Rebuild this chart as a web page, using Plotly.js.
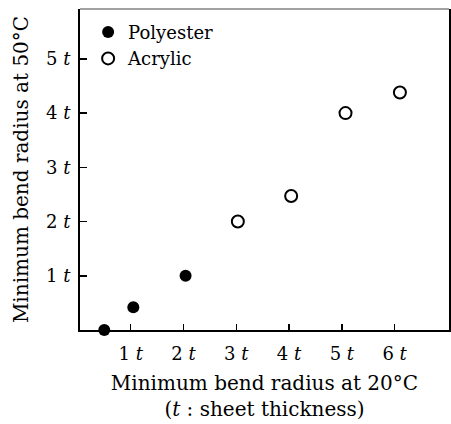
<!DOCTYPE html>
<html><head><meta charset="utf-8">
<script src="https://cdn.plot.ly/plotly-3.0.1.min.js"></script>
<style>body{margin:0;background:#fff}</style>
</head><body>
<div id="chart" style="width:451px;height:424px"></div>
<script>
// Data (units of sheet thickness t)
const polyesterX = [0.5, 1.05, 2.04];
const polyesterY = [0, 0.42, 1];
const acrylicX = [3.03, 4.04, 5.07, 6.1];
const acrylicY = [2, 2.47, 4, 4.38];
const seriesNames = ['Polyester', 'Acrylic'];
const xTickVals = [1, 2, 3, 4, 5, 6];
const yTickVals = [1, 2, 3, 4, 5];
const xTickText = xTickVals.map(v => v + ' <i>t</i>');
const yTickText = yTickVals.map(v => v + ' <i>t</i>');
const xTitle = 'Minimum bend radius at 20°C<br>(<i>t</i> : sheet thickness)';
const yTitle = 'Minimum bend radius at 50°C';

const FONT = 'DejaVu Serif';

const traces = [
  {
    x: polyesterX, y: polyesterY, name: seriesNames[0],
    type: 'scatter', mode: 'markers', cliponaxis: false,
    marker: {symbol: 'circle', size: 12, color: '#000'}
  },
  {
    x: acrylicX, y: acrylicY, name: seriesNames[1],
    type: 'scatter', mode: 'markers', cliponaxis: false,
    marker: {symbol: 'circle-open', size: 12, color: '#000', line: {width: 2, color: '#000'}}
  }
];

const layout = {
  width: 451, height: 424,
  margin: {l: 80, r: 2, t: 9, b: 94},
  paper_bgcolor: '#fff', plot_bgcolor: '#fff',
  font: {family: FONT, color: '#000', size: 18},
  showlegend: true,
  legend: {
    x: 0.022, y: 0.985, xanchor: 'left', yanchor: 'top',
    font: {family: FONT, size: 18, color: '#000'},
    bgcolor: 'rgba(0,0,0,0)', itemwidth: 30
  },
  xaxis: {
    range: [0.04, 7.03], tickvals: xTickVals, ticktext: xTickText,
    ticks: 'inside', ticklen: 6, tickwidth: 1.5, tickcolor: '#000',
    showline: true, linecolor: '#000', linewidth: 2, mirror: false,
    showgrid: false, zeroline: false, ticklabelstandoff: 6,
    tickfont: {family: FONT, size: 18},
    title: {text: xTitle, font: {family: FONT, size: 20}, standoff: 13}
  },
  yaxis: {
    range: [0, 5.92], tickvals: yTickVals, ticktext: yTickText,
    ticks: 'inside', ticklen: 7, tickwidth: 1.5, tickcolor: '#000',
    showline: true, linecolor: '#000', linewidth: 2, mirror: true,
    showgrid: false, zeroline: false, ticklabelstandoff: 4,
    tickfont: {family: FONT, size: 18},
    title: {text: yTitle, font: {family: FONT, size: 20}, standoff: 12}
  },
  shapes: [
    {type: 'line', xref: 'paper', yref: 'paper', x0: 0, x1: 1, y0: 1, y1: 1,
     line: {color: '#444', width: 1}}
  ]
};

Plotly.newPlot('chart', traces, layout, {displayModeBar: false, staticPlot: true});
</script>
</body></html>
